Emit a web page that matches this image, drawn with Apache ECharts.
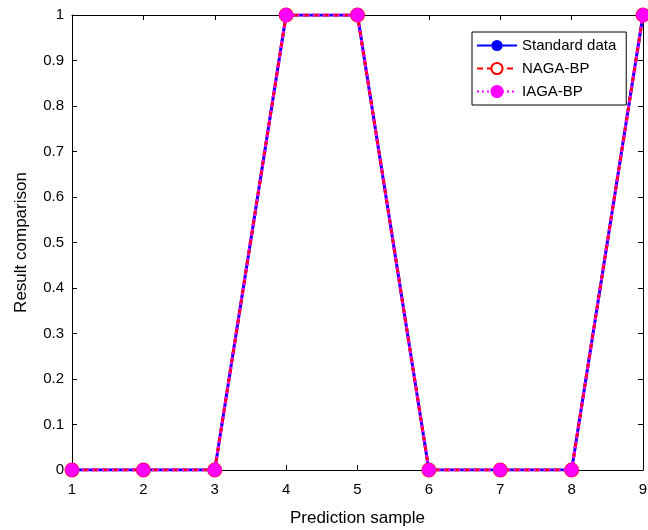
<!DOCTYPE html>
<html><head><meta charset="utf-8">
<script src="https://cdn.jsdelivr.net/npm/echarts@6/dist/echarts.min.js"></script>
<style>html,body{margin:0;padding:0;background:#fff}#c{width:648px;height:530px}</style>
</head><body><div id="c"></div>
<script>
const samples = [1,2,3,4,5,6,7,8,9];
const standardData = [0,0,0,1,1,0,0,0,1];
const nagaBP = [0,0,0,1,1,0,0,0,1];
const iagaBP = [0,0,0,1,1,0,0,0,1];
const yTicks = [0,0.1,0.2,0.3,0.4,0.5,0.6,0.7,0.8,0.9,1];

const pairs = arr => samples.map((s,i)=>[s,arr[i]]);
const font = 'Liberation Sans, Arial, sans-serif';
const chart = echarts.init(document.getElementById('c'), null, {renderer:'canvas'});
const axisCommon = {
  axisLine:{show:true,onZero:false,lineStyle:{color:'#000',width:1}},
  axisTick:{show:true,inside:true,length:5,lineStyle:{color:'#000'}},
  splitLine:{show:false}
};
chart.setOption({
  animation:false,
  grid:{left:72,right:5,top:15,bottom:60,containLabel:false,outerBoundsMode:'none'},
  legend:{
    orient:'vertical', left:472, top:32,
    backgroundColor:'#fff', borderColor:'#000', borderWidth:1,
    padding:[6,10,6,4], itemGap:8, itemWidth:40, itemHeight:14,
    textStyle:{fontFamily:font,fontSize:15,color:'#000'},
    data:['Standard data','NAGA-BP','IAGA-BP']
  },
  xAxis:[
    Object.assign({type:'value',min:1,max:9,interval:1,position:'bottom',
      name:'Prediction sample',nameLocation:'middle',nameGap:40,
      nameTextStyle:{fontFamily:font,fontSize:17,color:'#000'},
      axisLabel:{fontFamily:font,fontSize:15,color:'#000',margin:12}},axisCommon),
    Object.assign({type:'value',min:1,max:9,interval:1,position:'top',axisLabel:{show:false}},axisCommon)
  ],
  yAxis:[
    Object.assign({type:'value',min:0,max:1,interval:0.1,position:'left',
      name:'Result comparison',nameLocation:'middle',nameGap:42,
      nameTextStyle:{fontFamily:font,fontSize:17,color:'#000'},
      axisLabel:{fontFamily:font,fontSize:15,color:'#000',margin:8,
        formatter:v=>String(Math.round(v*10)/10)}},axisCommon),
    Object.assign({type:'value',min:0,max:1,interval:0.1,position:'right',axisLabel:{show:false}},axisCommon)
  ],
  series:[
    {name:'Standard data',type:'line',data:pairs(standardData),
     lineStyle:{color:'#0000ff',width:3,type:'solid'},itemStyle:{color:'#0000ff'},
     symbol:'circle',symbolSize:10,showSymbol:true,z:2},
    {name:'NAGA-BP',type:'line',data:pairs(nagaBP),
     lineStyle:{color:'#ff0000',width:3,type:[6,4]},
     itemStyle:{color:'#fff',borderColor:'#ff0000',borderWidth:3},
     symbol:'circle',symbolSize:12,z:3},
    {name:'IAGA-BP',type:'line',data:pairs(iagaBP),
     lineStyle:{color:'#ff00ff',width:3,type:[2,3]},
     itemStyle:{color:'#ff00ff',borderColor:'#ff00ff',borderWidth:1},
     symbol:'circle',symbolSize:13,z:4}
  ]
});
</script></body></html>
